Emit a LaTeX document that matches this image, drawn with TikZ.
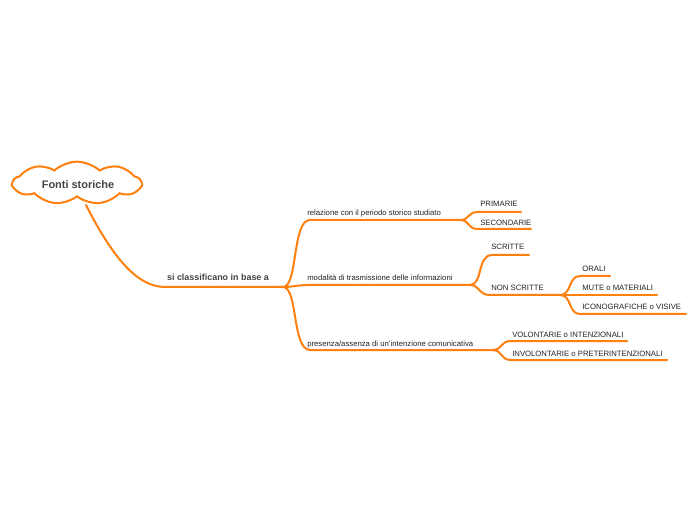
\documentclass[tikz,border=0pt]{standalone}
\usepackage{fontspec}
\setmainfont{Liberation Sans}
\usetikzlibrary{shapes.symbols}
\definecolor{mmorange}{HTML}{FF7F0F}
\definecolor{mmtext}{HTML}{222222}
\definecolor{mmbold}{HTML}{444444}
\begin{document}
\begin{tikzpicture}[x=0.75pt,y=-0.75pt,
  conn/.style={draw=mmorange,line width=1.5pt,line cap=round},
  lbl/.style={anchor=base west,inner sep=0pt,text=mmtext,font=\fontsize{5.8pt}{7pt}\selectfont},
  boldlbl/.style={anchor=base,inner sep=0pt,text=mmbold,font=\fontsize{6.7pt}{8pt}\selectfont\bfseries},
  cloudbox/.style={cloud,cloud puffs=9,cloud puff arc=85,cloud ignores aspect,draw=mmorange,line width=1.5pt,fill=white,minimum width=96pt,minimum height=32pt,inner sep=0pt}]
\useasboundingbox (0,0) rectangle (696,520);
% root
\node[cloudbox,shape border rotate=8] (root) at (77,183) {};
\node[text=mmbold,font=\fontsize{8.2pt}{10pt}\selectfont\bfseries,inner sep=0pt] (roottxt) at (78,185) {Fonti storiche};
% junction coordinates
\coordinate (rootbot) at (86,205);
\coordinate (j0) at (283,287);
\coordinate (j1) at (460,220);
\coordinate (j2) at (470,285);
\coordinate (j3) at (492,350);
\coordinate (j4) at (560,295);
% ends
\coordinate (e1) at (521,212);
\coordinate (e2) at (531,229);
\coordinate (e3) at (529,255);
\coordinate (e5) at (610,276);
\coordinate (e6) at (657,295);
\coordinate (e7) at (686,314);
\coordinate (e8) at (627,341);
\coordinate (e9) at (667,360);
% connectors
\draw[conn] (rootbot) .. controls (110,252) and (135,287) .. (165,287) -- (j0);
\draw[conn] (j0) .. controls (298,287) and (292,220) .. (310,220) -- (j1);
\draw[conn] (j0) .. controls (293,287) and (297,285) .. (310,285) -- (j2);
\draw[conn] (j0) .. controls (298,287) and (292,350) .. (310,350) -- (j3);
\draw[conn] (j1) .. controls (470,220) and (467,212) .. (478,212) -- (e1);
\draw[conn] (j1) .. controls (470,220) and (467,229) .. (478,229) -- (e2);
\draw[conn] (j2) .. controls (483,285) and (477,255) .. (492,255) -- (e3);
\draw[conn] (j2) .. controls (480,285) and (478,295) .. (490,295) -- (j4);
\draw[conn] (j4) .. controls (572,295) and (568,276) .. (580,276) -- (e5);
\draw[conn] (j4) -- (e6);
\draw[conn] (j4) .. controls (572,295) and (568,314) .. (580,314) -- (e7);
\draw[conn] (j3) .. controls (503,350) and (500,341) .. (511,341) -- (e8);
\draw[conn] (j3) .. controls (503,350) and (500,360) .. (511,360) -- (e9);
% labels
\node[boldlbl] (main) at (218,281) {si classificano in base a};
\node[lbl] (b1) at (307,216) {relazione con il periodo storico studiato};
\node[lbl] (b2) at (307,281) {modalità di trasmissione delle informazioni};
\node[lbl] (b3) at (307,346) {presenza/assenza di un'intenzione comunicativa};
\node[lbl] (l1) at (480,207) {PRIMARIE};
\node[lbl] (l2) at (480,226) {SECONDARIE};
\node[lbl] (l3) at (491,250) {SCRITTE};
\node[lbl] (l4) at (491,291) {NON SCRITTE};
\node[lbl] (l5) at (582,272) {ORALI};
\node[lbl] (l6) at (582,291) {MUTE o MATERIALI};
\node[lbl] (l7) at (582,310) {ICONOGRAFICHE o VISIVE};
\node[lbl] (l8) at (512,337) {VOLONTARIE o INTENZIONALI};
\node[lbl] (l9) at (512,356) {INVOLONTARIE o PRETERINTENZIONALI};
\end{tikzpicture}
\end{document}
